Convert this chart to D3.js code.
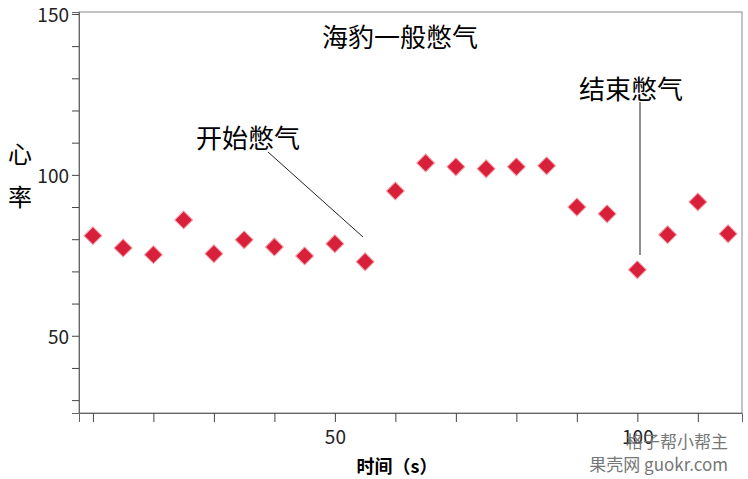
<!DOCTYPE html><html><head><meta charset="utf-8"><script src="https://cdn.jsdelivr.net/npm/d3@7"></script>
<style>body{margin:0;background:#fff}text{font-family:"Noto Sans CJK SC",Arial,sans-serif}</style></head><body><svg width="748" height="479"></svg><script>
const times=[10,15,20,25,30,35,40,45,50,55,60,65,70,75,80,85,90,95,100,105,110,115];
const heartRate=[81.1,77.3,75.2,86,75.5,79.8,77.6,74.8,78.6,73,95,103.7,102.5,101.9,102.5,102.8,90,87.9,70.5,81.4,91.6,81.7];
const xTicks=[10,20,30,40,50,60,70,80,90,100,110];
const yTicks=[30,40,50,60,70,80,90,100,110,120,130,140,150];
const svg=d3.select("svg");
const L=79,R=742,T=12,B=413;
const x=d3.scaleLinear().domain([7.7,117.3]).range([L,R]);
const y=d3.scaleLinear().domain([26,150.6]).range([B,T]);
svg.append("rect").attr("x",L).attr("y",T).attr("width",R-L).attr("height",B-T).attr("fill","none").attr("stroke","#888");
const xa=svg.append("g").attr("transform",`translate(0,${B})`).call(d3.axisBottom(x).tickValues(xTicks).tickSize(9).tickFormat(d=>d%50===0?d:""));
const ya=svg.append("g").attr("transform",`translate(${L},0)`).call(d3.axisLeft(y).tickValues(yTicks).tickSize(7).tickFormat(d=>d%50===0?d:""));
[xa,ya].forEach(a=>{a.select(".domain").attr("stroke","#666");a.selectAll("line").attr("stroke","#444");a.selectAll("text").attr("font-family","Arial,Liberation Sans,sans-serif").attr("font-size",19).attr("fill","#222");});
xa.selectAll("text").attr("dy","1em");
ya.selectAll("text").attr("dy","0.4em");
svg.selectAll(".pt").data(times).join("path").attr("class","pt")
 .attr("d",d3.symbol(d3.symbolSquare,160)).attr("fill","#d8203a").attr("stroke","#f3a0aa").attr("stroke-width",1)
 .attr("transform",(d,i)=>`translate(${x(d)},${y(heartRate[i])}) rotate(45)`);
svg.append("text").attr("x",400).attr("y",47).attr("text-anchor","middle").attr("font-size",26).text("海豹一般憋气");
svg.append("text").attr("x",196).attr("y",148).attr("font-size",26).text("开始憋气");
svg.append("line").attr("x1",268).attr("y1",152).attr("x2",363).attr("y2",237).attr("stroke","#222");
svg.append("text").attr("x",579).attr("y",99).attr("font-size",26).text("结束憋气");
svg.append("line").attr("x1",640).attr("y1",102).attr("x2",640).attr("y2",255).attr("stroke","#222");
svg.append("text").attr("x",8).attr("y",163).attr("font-size",24).text("心");
svg.append("text").attr("x",8).attr("y",206).attr("font-size",24).text("率");
svg.append("text").attr("x",397).attr("y",473).attr("text-anchor","middle").attr("font-size",18).attr("font-weight","bold").text("时间（s）");
svg.append("text").attr("x",728).attr("y",448).attr("text-anchor","end").attr("font-size",17).attr("fill","#777").text("格子帮小帮主");
svg.append("text").attr("x",728).attr("y",471).attr("text-anchor","end").attr("font-size",17).attr("fill","#777").text("果壳网 guokr.com");
</script></body></html>
